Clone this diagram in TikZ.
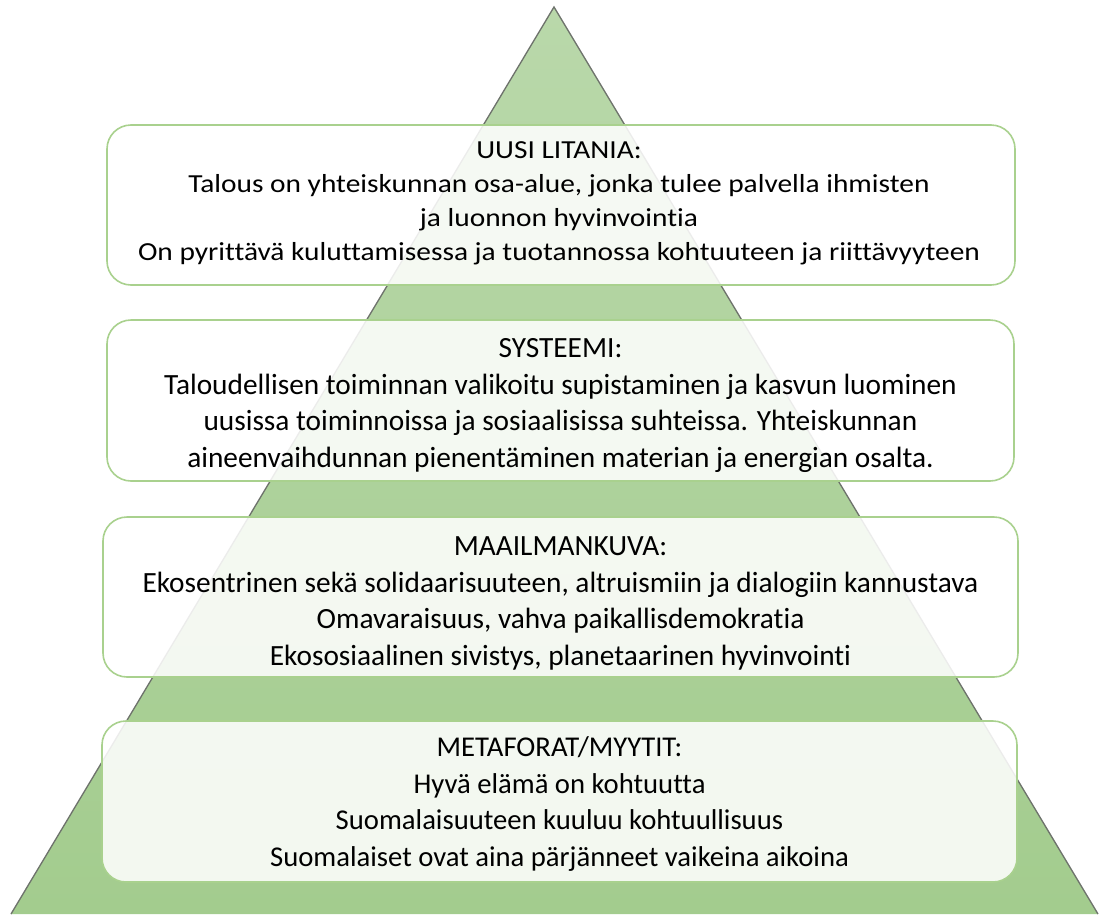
\documentclass[tikz,border=0pt]{standalone}
\usepackage{fontspec}
\setmainfont{Carlito}[Ligatures=NoCommon]
\newfontfamily\widefont{Carlito}[Ligatures=NoCommon, FakeStretch=1.13]
\definecolor{boxline}{RGB}{169,209,142}
\definecolor{tritop}{RGB}{185,216,170}
\definecolor{tribot}{RGB}{163,204,142}
\definecolor{triedge}{RGB}{110,115,108}
\tikzset{
  layer/.style={draw=boxline, line width=1.2pt, fill=white, fill opacity=0.87, text opacity=1,
    rounded corners=18pt, align=center, inner sep=0pt, text=black},
  bigtext/.style={font=\fontsize{22}{27.5}\selectfont},
  basetext/.style={font=\fontsize{21.5}{27.5}\selectfont},
  toptext/.style={font=\widefont\fontsize{19.5}{25.5}\selectfont}
}
\begin{document}
\begin{tikzpicture}[x=0.75pt,y=-0.75pt]
\useasboundingbox (0,0) rectangle (1109,914);
\coordinate (apex) at (554,7);
\coordinate (bl) at (11,914);
\coordinate (br) at (1098,914);
\shade[top color=tritop, bottom color=tribot] (apex) -- (bl) -- (br) -- cycle;
\draw[triedge, line width=1pt] (bl) -- (apex) -- (br);
% boxes
\draw[layer] (107,125) rectangle (1015,285);
\node[toptext, align=center] (b1) at (559,203) {UUSI LITANIA:\\Talous on yhteiskunnan osa-alue, jonka tulee palvella ihmisten\\ja luonnon hyvinvointia\\On pyrittävä kuluttamisessa ja tuotannossa kohtuuteen ja riittävyyteen};
\draw[layer] (107,320) rectangle (1014,481);
\node[bigtext, align=center] (b2) at (560.5,405.5) {SYSTEEMI:\\Taloudellisen toiminnan valikoitu supistaminen ja kasvun luominen\\uusissa toiminnoissa ja sosiaalisissa suhteissa. Yhteiskunnan\\aineenvaihdunnan pienentäminen materian ja energian osalta.};
\draw[layer] (103,517) rectangle (1018,677);
\node[bigtext, align=center] (b3) at (560.5,603.5) {MAAILMANKUVA:\\Ekosentrinen sekä solidaarisuuteen, altruismiin ja dialogiin kannustava\\Omavaraisuus, vahva paikallisdemokratia\\Ekososiaalinen sivistys, planetaarinen hyvinvointi};
\draw[layer] (102,721) rectangle (1017,882);
\node[basetext, align=center] (b4) at (559.5,804) {METAFORAT/MYYTIT:\\Hyvä elämä on kohtuutta\\Suomalaisuuteen kuuluu kohtuullisuus\\Suomalaiset ovat aina pärjänneet vaikeina aikoina};
\end{tikzpicture}
\end{document}
